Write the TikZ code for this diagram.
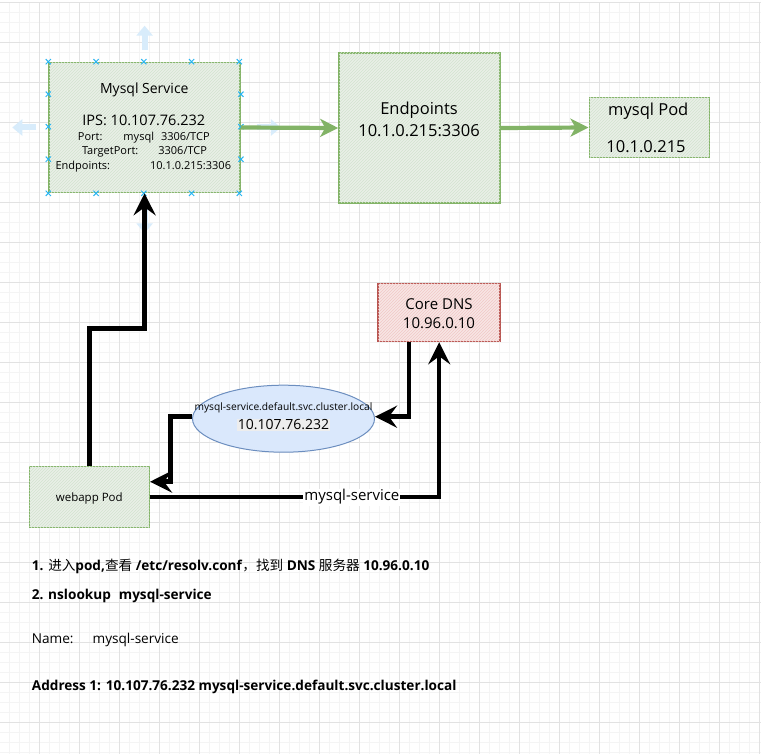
\documentclass[tikz,border=0pt]{standalone}
\usepackage{fontspec}
\setmainfont{Open Sans}
\newfontfamily\cjk{Noto Sans CJK SC}
\usetikzlibrary{arrows.meta,shapes.geometric,patterns}

\definecolor{gline}{HTML}{82B366}
\definecolor{gfill}{HTML}{E9EFE7}
\definecolor{ghatch}{HTML}{D3E3CF}
\definecolor{rline}{HTML}{B85450}
\definecolor{rfill}{HTML}{F8E6E5}
\definecolor{rhatch}{HTML}{F0C8C6}
\definecolor{bline}{HTML}{6C8EBF}
\definecolor{bfill}{HTML}{DAE8FC}
\definecolor{handle}{HTML}{29B6F2}
\definecolor{hover}{HTML}{D8ECFB}
\definecolor{gridmajor}{HTML}{E2E2E2}
\definecolor{gridminor}{HTML}{F4F4F4}

\tikzset{
  greenbox/.style={draw=gline, line width=1.6pt, fill=gfill,
    postaction={pattern=north east lines, pattern color=ghatch}},
  redbox/.style={draw=rline, line width=1.6pt, fill=rfill,
    postaction={pattern=north east lines, pattern color=rhatch}},
  lbl/.style={inner sep=1pt},
  note/.style={anchor=west, inner sep=0pt, font=\fontsize{13.6}{16}\selectfont},
  blkarrow/.style={line width=4.5pt, -{Stealth[length=22pt,width=22pt,inset=8pt]}},
  grnarrow/.style={draw=gline, line width=4.2pt, -{Stealth[length=18pt,width=18pt,inset=5pt]}},
  hoverarrow/.style={draw=hover, line width=6pt, -{Triangle[length=10pt,width=16pt]}},
  handlemark/.style={draw=handle, line width=1pt},
}

\begin{document}
\begin{tikzpicture}[x=1pt, y=-1pt]
    \useasboundingbox (0,0) rectangle (761,754);
    \fill[white] (0,0) rectangle (761,754);

    % Background grid
    \begin{scope}[shift={(-0.7,2.3)}]
        \draw[gridminor, line width=0.6pt] (0,0) grid[step=10pt] (770,760);
        \draw[gridmajor, line width=0.9pt] (0,0) grid[step=40pt] (770,760);
    \end{scope}

    % Boxes
    \node[greenbox, minimum width=191, minimum height=130] (svc) at (144.6,127.5) {};
    \node[greenbox, minimum width=161, minimum height=150] (ep) at (419.5,128) {};
    \node[greenbox, minimum width=120, minimum height=60] (pod) at (649.3,127.5) {};
    \node[redbox, minimum width=122, minimum height=58] (dns) at (439.2,312.5) {};
    \node[ellipse, draw=bline, line width=1pt, fill=bfill,
          minimum width=182, minimum height=67] (ell) at (283.5,418.7) {};
    \node[greenbox, minimum width=120, minimum height=61] (web) at (89.3,497) {};

    % Hover arrows around the selected box
    \draw[hoverarrow] ([yshift=12]svc.north) -- ++(0,-24);
    \draw[hoverarrow] ([xshift=-12]svc.west) -- ++(-24,0);
    \draw[hoverarrow] ([xshift=16]svc.east) -- ++(24,0);
    \draw[hoverarrow] ([yshift=-16]svc.south) -- ++(0,24);

    % Text of Mysql Service
    \node[lbl, font=\fontsize{14}{16}\selectfont] (svctitle) at (144.3,90) {Mysql Service};
    \node[lbl, font=\fontsize{14.5}{16}\selectfont] (svcips) at (143.8,120) {IPS: 10.107.76.232};
    \node[lbl, font=\fontsize{11}{13}\selectfont] (svcport) at (143.8,137.3) {Port:\hspace{21pt}mysql\hspace{7pt}3306/TCP};
    \node[lbl, font=\fontsize{11}{13}\selectfont] (svctarget) at (144.5,151.7) {TargetPort:\hspace{20pt}3306/TCP};
    \node[lbl, font=\fontsize{11}{13}\selectfont] (svcep) at (143.3,166.7) {Endpoints:\hspace{40pt}10.1.0.215:3306};

    % Selection handles
    \foreach \f in {0,0.25,0.5,0.75,1} {
        \foreach \p in {(svc.north west),(svc.south west)} {
            \draw[handlemark] \p ++(191*\f,0) ++(-2.6,-2.6) -- ++(5.2,5.2) ++(0,-5.2) -- ++(-5.2,5.2);
        }
    }
    \foreach \f in {0.25,0.5,0.75} {
        \foreach \p in {(svc.north west),(svc.north east)} {
            \draw[handlemark] \p ++(0,130*\f) ++(-2.6,-2.6) -- ++(5.2,5.2) ++(0,-5.2) -- ++(-5.2,5.2);
        }
    }

    % Other texts
    \node[lbl, font=\fontsize{16.5}{18}\selectfont] (eptitle) at (419,110.7) {Endpoints};
    \node[lbl, font=\fontsize{16.5}{18}\selectfont] (epaddr) at (419,130.7) {10.1.0.215:3306};
    \node[lbl, font=\fontsize{16.5}{18}\selectfont] (podtitle) at (648.3,111) {mysql Pod};
    \node[lbl, font=\fontsize{16.5}{18}\selectfont] (podip) at (646,146.7) {10.1.0.215};
    \node[lbl, font=\fontsize{15}{17}\selectfont] (dnstitle) at (439,304.3) {Core DNS};
    \node[lbl, font=\fontsize{15}{17}\selectfont] (dnsip) at (439,322.7) {10.96.0.10};
    \node[lbl, font=\fontsize{10.2}{11}\selectfont] (ellname) at (283.5,408.3) {mysql-service.default.svc.cluster.local};
    \node[lbl, fill=black!7, font=\fontsize{14}{16}\selectfont] (ellip) at (283.5,425) {10.107.76.232};
    \node[lbl, font=\fontsize{11.5}{13}\selectfont] (webtitle) at (89.3,498.3) {webapp Pod};

    % Green arrows
    \draw[grnarrow] (svc.east) -- (ep.west);
    \draw[grnarrow] (ep.east) -- (pod.west);

    % Black arrows
    \draw[blkarrow] (web.north) -- ++(0,-137.4) -| (svc.south);
    \draw[blkarrow] ([xshift=-30]dns.south) |- ([yshift=2]ell.east);
    \draw[blkarrow] ([yshift=2]ell.west) -- ++(-21.7,0) |- ([yshift=15.3]web.east);
    \draw[blkarrow] (web.east) -| (dns.south)
        node[pos=0.349, fill=white, inner sep=1pt, font=\fontsize{15}{17}\selectfont] (qlabel) {mysql-service};

    % Notes below
    \node[note] (step1) at (31.7,566)
        {\textbf{1. }{\cjk 进入}\textbf{pod,}{\cjk 查看} \textbf{/etc/resolv.conf}{\cjk ，找到} \textbf{DNS} {\cjk 服务器} \textbf{10.96.0.10}};
    \node[note] (step2) at (31.7,595.7) {\textbf{2. nslookup\hspace{8pt}mysql-service}};
    \node[note] (name) at (31.7,640) {Name:\hspace{19pt}mysql-service};
    \node[note] (addr) at (31.7,686.7)
        {\textbf{Address 1: 10.107.76.232 mysql-service.default.svc.cluster.local}};
\end{tikzpicture}
\end{document}
